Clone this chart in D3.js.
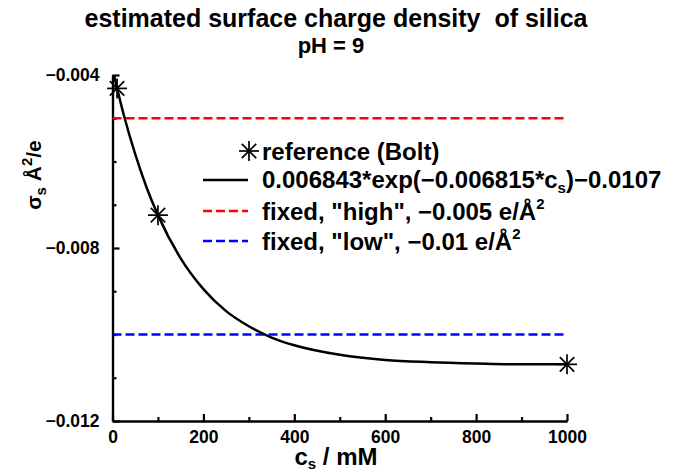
<!DOCTYPE html>
<html>
<head>
<meta charset="utf-8">
<script src="https://cdn.jsdelivr.net/npm/d3@7"></script>
<style>
  body { margin: 0; background: #fff; }
  svg { font-family: "Liberation Sans", Arial, Helvetica, sans-serif; font-weight: bold; }
</style>
</head>
<body>
<svg id="chart" width="676" height="472"></svg>
<script>
// reference points (Bolt)
const refC = [10, 100, 1000];
const refSigma = [-0.00431, -0.00724, -0.01069];

// fitted curve
const curveC = [0, 25, 50, 75, 100, 150, 200, 250, 300, 350, 400, 500, 600, 700, 800, 900, 1000];
const curveSigma = [-0.00386, -0.00493, -0.00583, -0.00660, -0.00724, -0.00824, -0.00895, -0.00946,
  -0.00981, -0.01007, -0.01025, -0.01047, -0.01059, -0.01064, -0.01067, -0.01069, -0.01069];

// fixed values
const fixedHigh = -0.005;
const fixedLow = -0.01;

const xMajor = [0, 200, 400, 600, 800, 1000];
const xMinor = [100, 300, 500, 700, 900];
const yMajor = [-0.012, -0.008, -0.004];
const yMinor = [-0.011, -0.010, -0.009, -0.007, -0.006, -0.005];

const svg = d3.select('#chart');
const x = d3.scaleLinear().domain([0, 1000]).range([112.5, 567]);
const y = d3.scaleLinear().domain([-0.012, -0.004]).range([421, 75]);

svg.append('defs').append('clipPath').attr('id', 'plotclip')
  .append('rect')
  .attr('x', x(0)).attr('y', y(-0.004))
  .attr('width', x(1000) - x(0) + 20).attr('height', y(-0.012) - y(-0.004));

// title
svg.append('text').attr('x', 336).attr('y', 27).attr('text-anchor', 'middle')
  .style('font-size', '25px').style('white-space', 'pre')
  .text('estimated surface charge density  of silica');
svg.append('text').attr('x', 331).attr('y', 53).attr('text-anchor', 'middle')
  .style('font-size', '22px').text('pH = 9');

// axes
const xAxis = d3.axisBottom(x).tickValues(xMajor).tickSizeInner(-7).tickSizeOuter(0)
  .tickPadding(10).tickFormat(d3.format('d'));
const xAxisMinor = d3.axisBottom(x).tickValues(xMinor).tickSizeInner(-4).tickSizeOuter(0).tickFormat('');
const yAxis = d3.axisLeft(y).tickValues(yMajor).tickSizeInner(-7).tickSizeOuter(0)
  .tickPadding(13).tickFormat(d3.format('.3f'));
const yAxisMinor = d3.axisLeft(y).tickValues(yMinor).tickSizeInner(-4).tickSizeOuter(0).tickFormat('');

function styleAxis(g) {
  g.selectAll('path, line').attr('stroke', '#000').attr('stroke-width', 2.2);
  g.selectAll('text').attr('fill', '#000').style('font-size', '17.5px')
    .style('font-family', '"Liberation Sans", Arial, sans-serif').style('font-weight', 'bold');
}

svg.append('g').attr('transform', `translate(0,${y(-0.012)})`).call(xAxisMinor).call(styleAxis);
svg.append('g').attr('transform', `translate(0,${y(-0.012)})`).call(xAxis).call(styleAxis);
svg.append('g').attr('transform', `translate(${x(0)},0)`).call(yAxisMinor).call(styleAxis);
svg.append('g').attr('transform', `translate(${x(0)},0)`).call(yAxis).call(styleAxis);

// axis labels
const xl = svg.append('text').attr('x', 336).attr('y', 465).attr('text-anchor', 'middle')
  .style('font-size', '24px');
xl.append('tspan').text('c');
xl.append('tspan').attr('dy', 4).style('font-size', '15px').text('s');
xl.append('tspan').attr('dy', -4).text(' / mM');

const yl = svg.append('text').attr('transform', 'translate(41,175) rotate(-90)')
  .attr('text-anchor', 'middle').style('font-size', '21px');
yl.append('tspan').text('σ');
yl.append('tspan').attr('dy', 5).style('font-size', '15px').text('s');
yl.append('tspan').attr('dy', -5).text(' Å');
yl.append('tspan').attr('dy', -9).style('font-size', '15px').text('2');
yl.append('tspan').attr('dy', 9).text('/e');

// fixed lines
const plot = svg.append('g').attr('clip-path', 'url(#plotclip)');
plot.append('line').attr('x1', x(0)).attr('x2', x(1000))
  .attr('y1', y(fixedHigh)).attr('y2', y(fixedHigh))
  .attr('stroke', '#ff0000').attr('stroke-width', 2.5).attr('stroke-dasharray', '9,4');
plot.append('line').attr('x1', x(0)).attr('x2', x(1000))
  .attr('y1', y(fixedLow)).attr('y2', y(fixedLow))
  .attr('stroke', '#0000ff').attr('stroke-width', 2.5).attr('stroke-dasharray', '9,4');

// fitted curve
const line = d3.line().x((d, i) => x(curveC[i])).y(d => y(d)).curve(d3.curveMonotoneX);
plot.append('path').datum(curveSigma).attr('d', line)
  .attr('fill', 'none').attr('stroke', '#000').attr('stroke-width', 2.5);

// star markers
function star(g, r) {
  [[0, -r, 0, r], [-r, 0, r, 0], [-r * 0.72, -r * 0.72, r * 0.72, r * 0.72], [-r * 0.72, r * 0.72, r * 0.72, -r * 0.72]]
    .forEach(l => g.append('line').attr('x1', l[0]).attr('y1', l[1]).attr('x2', l[2]).attr('y2', l[3])
      .attr('stroke', '#000').attr('stroke-width', 1.7));
}
svg.append('g').selectAll('g.pt').data(refC).enter().append('g').attr('class', 'pt')
  .attr('transform', (d, i) => `translate(${x(d)},${y(refSigma[i])})`)
  .each(function () { star(d3.select(this), 10); });

// legend
const leg = svg.append('g').style('font-size', '24px');
const rowY = [151, 180, 211, 241];
const textX = 262;
star(leg.append('g').attr('transform', `translate(249,${rowY[0]})`), 10);
leg.append('text').attr('x', textX).attr('y', rowY[0] + 9).text('reference (Bolt)');

leg.append('line').attr('x1', 203).attr('x2', 248).attr('y1', rowY[1]).attr('y2', rowY[1])
  .attr('stroke', '#000').attr('stroke-width', 2.5);
const t2 = leg.append('text').attr('x', textX).attr('y', rowY[1] + 8);
t2.append('tspan').text('0.006843*exp(−0.006815*c');
t2.append('tspan').attr('dy', 5).style('font-size', '15px').text('s');
t2.append('tspan').attr('dy', -5).text(')−0.0107');

leg.append('line').attr('x1', 203).attr('x2', 248).attr('y1', rowY[2]).attr('y2', rowY[2])
  .attr('stroke', '#ff0000').attr('stroke-width', 2.5).attr('stroke-dasharray', '9,4');
const t3 = leg.append('text').attr('x', textX).attr('y', rowY[2] + 9);
t3.append('tspan').text('fixed, "high", −0.005 e/Å');
t3.append('tspan').attr('dy', -11).style('font-size', '15px').text('2');

leg.append('line').attr('x1', 203).attr('x2', 248).attr('y1', rowY[3]).attr('y2', rowY[3])
  .attr('stroke', '#0000ff').attr('stroke-width', 2.5).attr('stroke-dasharray', '9,4');
const t4 = leg.append('text').attr('x', textX).attr('y', rowY[3] + 9);
t4.append('tspan').text('fixed, "low", −0.01 e/Å');
t4.append('tspan').attr('dy', -11).style('font-size', '15px').text('2');
</script>
</body>
</html>
